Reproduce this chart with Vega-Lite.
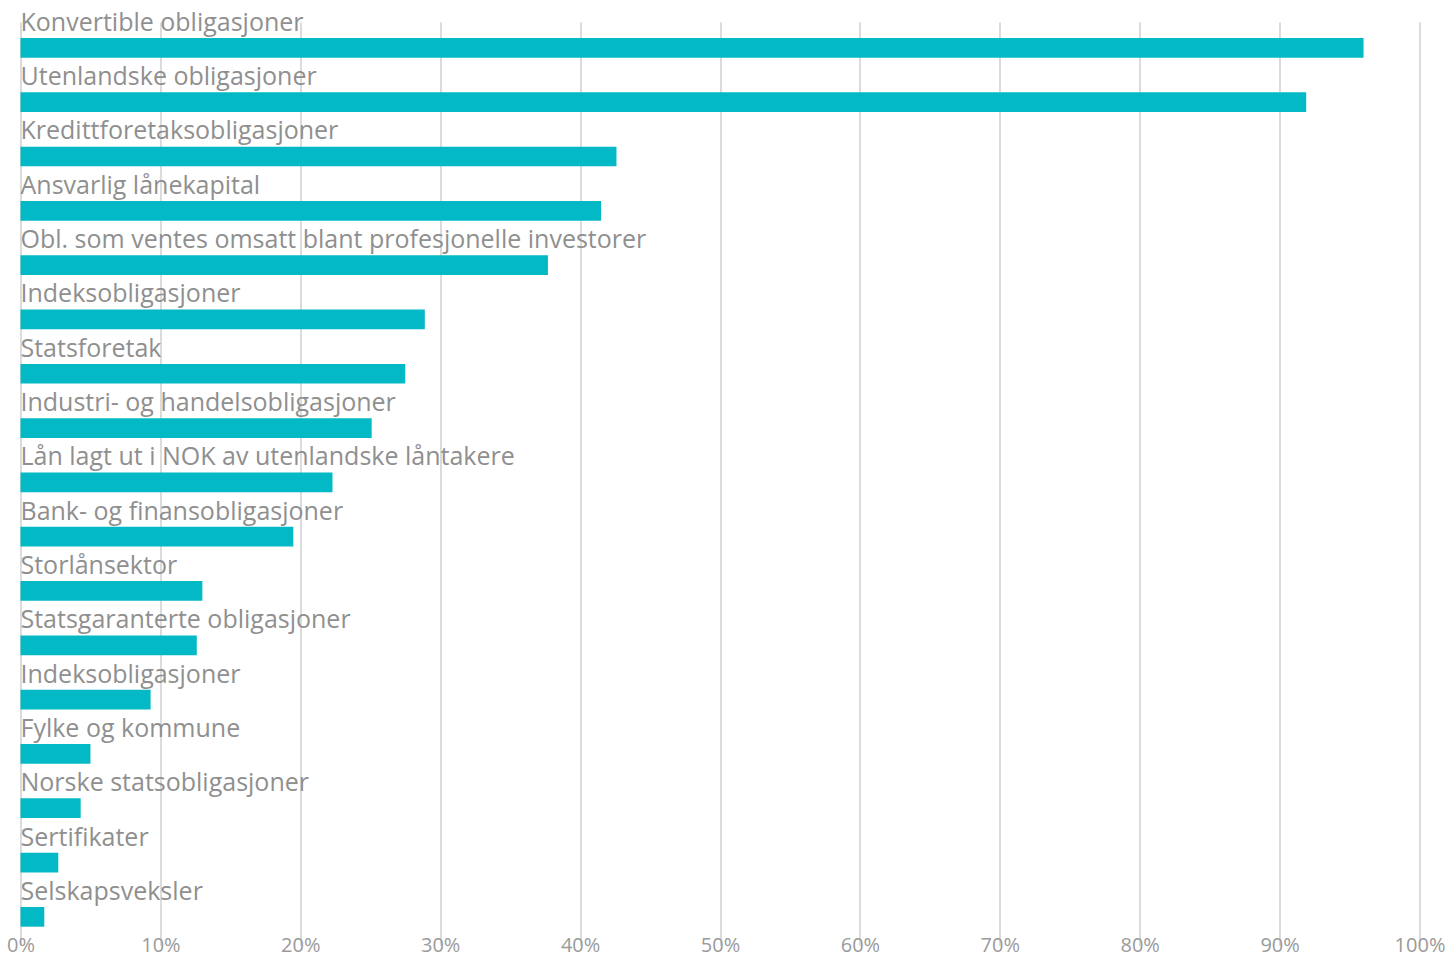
{
  "$schema": "https://vega.github.io/schema/vega-lite/v6.json",
  "autosize": {"type": "none"},
  "padding": {"left": 20.5, "top": 36, "right": 30, "bottom": 27},
  "width": 1399,
  "height": 894,
  "background": "white",
  "config": {"view": {"stroke": null}},
  "data": {"values": [
    {"id": 1, "label": "Konvertible obligasjoner", "value": 0.960},
    {"id": 2, "label": "Utenlandske obligasjoner", "value": 0.919},
    {"id": 3, "label": "Kredittforetaksobligasjoner", "value": 0.426},
    {"id": 4, "label": "Ansvarlig lånekapital", "value": 0.415},
    {"id": 5, "label": "Obl. som ventes omsatt blant profesjonelle investorer", "value": 0.377},
    {"id": 6, "label": "Indeksobligasjoner", "value": 0.289},
    {"id": 7, "label": "Statsforetak", "value": 0.275},
    {"id": 8, "label": "Industri- og handelsobligasjoner", "value": 0.251},
    {"id": 9, "label": "Lån lagt ut i NOK av utenlandske låntakere", "value": 0.223},
    {"id": 10, "label": "Bank- og finansobligasjoner", "value": 0.195},
    {"id": 11, "label": "Storlånsektor", "value": 0.130},
    {"id": 12, "label": "Statsgaranterte obligasjoner", "value": 0.126},
    {"id": 13, "label": "Indeksobligasjoner", "value": 0.093},
    {"id": 14, "label": "Fylke og kommune", "value": 0.050},
    {"id": 15, "label": "Norske statsobligasjoner", "value": 0.043},
    {"id": 16, "label": "Sertifikater", "value": 0.027},
    {"id": 17, "label": "Selskapsveksler", "value": 0.017}
  ]},
  "encoding": {
    "y": {"field": "id", "type": "ordinal", "axis": null,
          "scale": {"range": [-15.3, 908], "paddingInner": 0, "paddingOuter": 0}}
  },
  "layer": [
    {
      "mark": {"type": "bar", "color": "#04b9c6", "height": 19.7},
      "encoding": {
        "x": {"field": "value", "type": "quantitative",
              "scale": {"domain": [0, 1], "nice": false},
              "axis": {"format": "%", "values": [0,0.1,0.2,0.3,0.4,0.5,0.6,0.7,0.8,0.9,1],
                       "grid": true, "gridColor": "#c4c4c4", "gridWidth": 1.2,
                       "domain": false, "ticks": false, "labelPadding": 5,
                       "labelFont": "Open Sans", "labelFontSize": 20, "labelColor": "#9a9a9a",
                       "title": null, "labelFlush": false}}
      }
    },
    {
      "mark": {"type": "text", "align": "left", "baseline": "alphabetic", "yOffset": -17,
               "font": "Open Sans", "fontSize": 25, "color": "#8f8f8f"},
      "encoding": {
        "x": {"datum": 0, "type": "quantitative"},
        "text": {"field": "label"}
      }
    }
  ]
}
